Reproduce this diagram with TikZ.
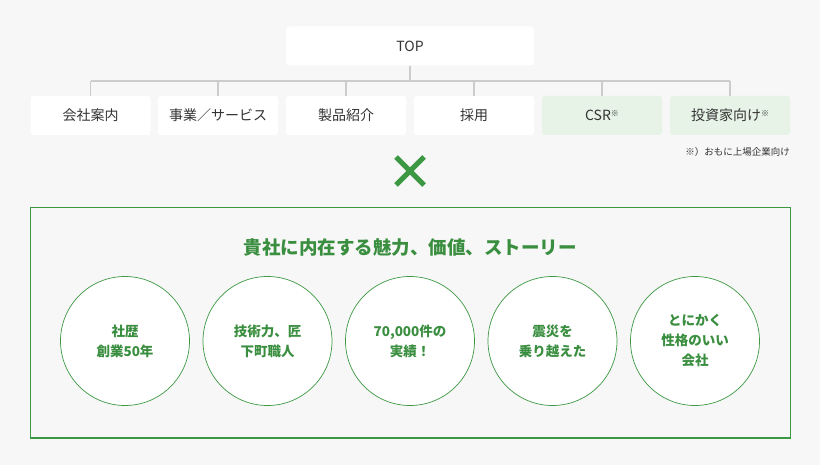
\documentclass[tikz,border=0pt]{standalone}
\usepackage{fontspec}
\newfontfamily\jp{Noto Sans CJK JP}
\definecolor{pagebg}{HTML}{F7F7F7}
\definecolor{linegray}{HTML}{CCCCCC}
\definecolor{kgreen}{HTML}{3C9842}
\definecolor{tgreen}{HTML}{3A8E3F}
\definecolor{lightgreen}{HTML}{E6F3E6}
\definecolor{txt}{HTML}{333333}
\newcommand{\kome}{\raisebox{4.5pt}{\fontsize{8}{8}\selectfont ※}}
\begin{document}
\begin{tikzpicture}[x=1pt,y=-1pt,
    menu/.style={fill=white,rounded corners=3pt,minimum width=120pt,minimum height=39pt,
      inner sep=0pt,text=txt,font={\jp\fontsize{14}{16}\selectfont}},
    greenmenu/.style={menu,fill=lightgreen},
    tree/.style={draw=linegray,line width=1.5pt},
    point/.style={circle,draw=kgreen,line width=0.7pt,fill=white,minimum size=129pt,
      inner sep=0pt,align=center,text=tgreen,font={\jp\bfseries\fontsize{13.5}{20}\selectfont}}]
  \useasboundingbox[fill=pagebg] (0,0) rectangle (820,465);
  % site map
  \node[menu,minimum width=248pt] (top) at (410,46) {TOP};
  \node[menu] (n1) at (90.5,115.5) {会社案内};
  \node[menu] (n2) at (218,115.5) {事業／サービス};
  \node[menu] (n3) at (346,115.5) {製品紹介};
  \node[menu] (n4) at (474,115.5) {採用};
  \node[greenmenu] (n5) at (602,115.5) {CSR\kome};
  \node[greenmenu] (n6) at (730,115.5) {投資家向け\kome};
  \node[anchor=east,inner sep=0pt,text=txt,font={\jp\fontsize{9.5}{10}\selectfont}]
    (note) at (790,152) {※）おもに上場企業向け};
  \coordinate (bus) at (410,81);
  \draw[tree] (top.south) -- (bus);
  \draw[tree] (bus -| n1) -- (bus -| n6);
  \foreach \i in {1,...,6}
    \draw[tree] (bus -| n\i) -- (n\i.north);
  % cross
  \draw[kgreen,line width=5pt] (396,157) -- (424,185) (424,157) -- (396,185);
  % strengths
  \draw[kgreen,line width=1pt] (30,208) rectangle (790,438);
  \draw[kgreen,line width=2pt] (30,437.5) -- (790,437.5);
  \node[text=tgreen,font={\jp\bfseries\fontsize{18.5}{20}\selectfont}] (title) at (410,247)
    {貴社に内在する魅力、価値、ストーリー};
  \node[point] (c1) at (125,341) {社歴\\創業50年};
  \node[point] (c2) at (267.5,341) {技術力、匠\\下町職人};
  \node[point] (c3) at (410,341) {70,000件の\\実績！};
  \node[point] (c4) at (552.5,341) {震災を\\乗り越えた};
  \node[point] (c5) at (695,341) {とにかく\\性格のいい\\会社};
\end{tikzpicture}
\end{document}
